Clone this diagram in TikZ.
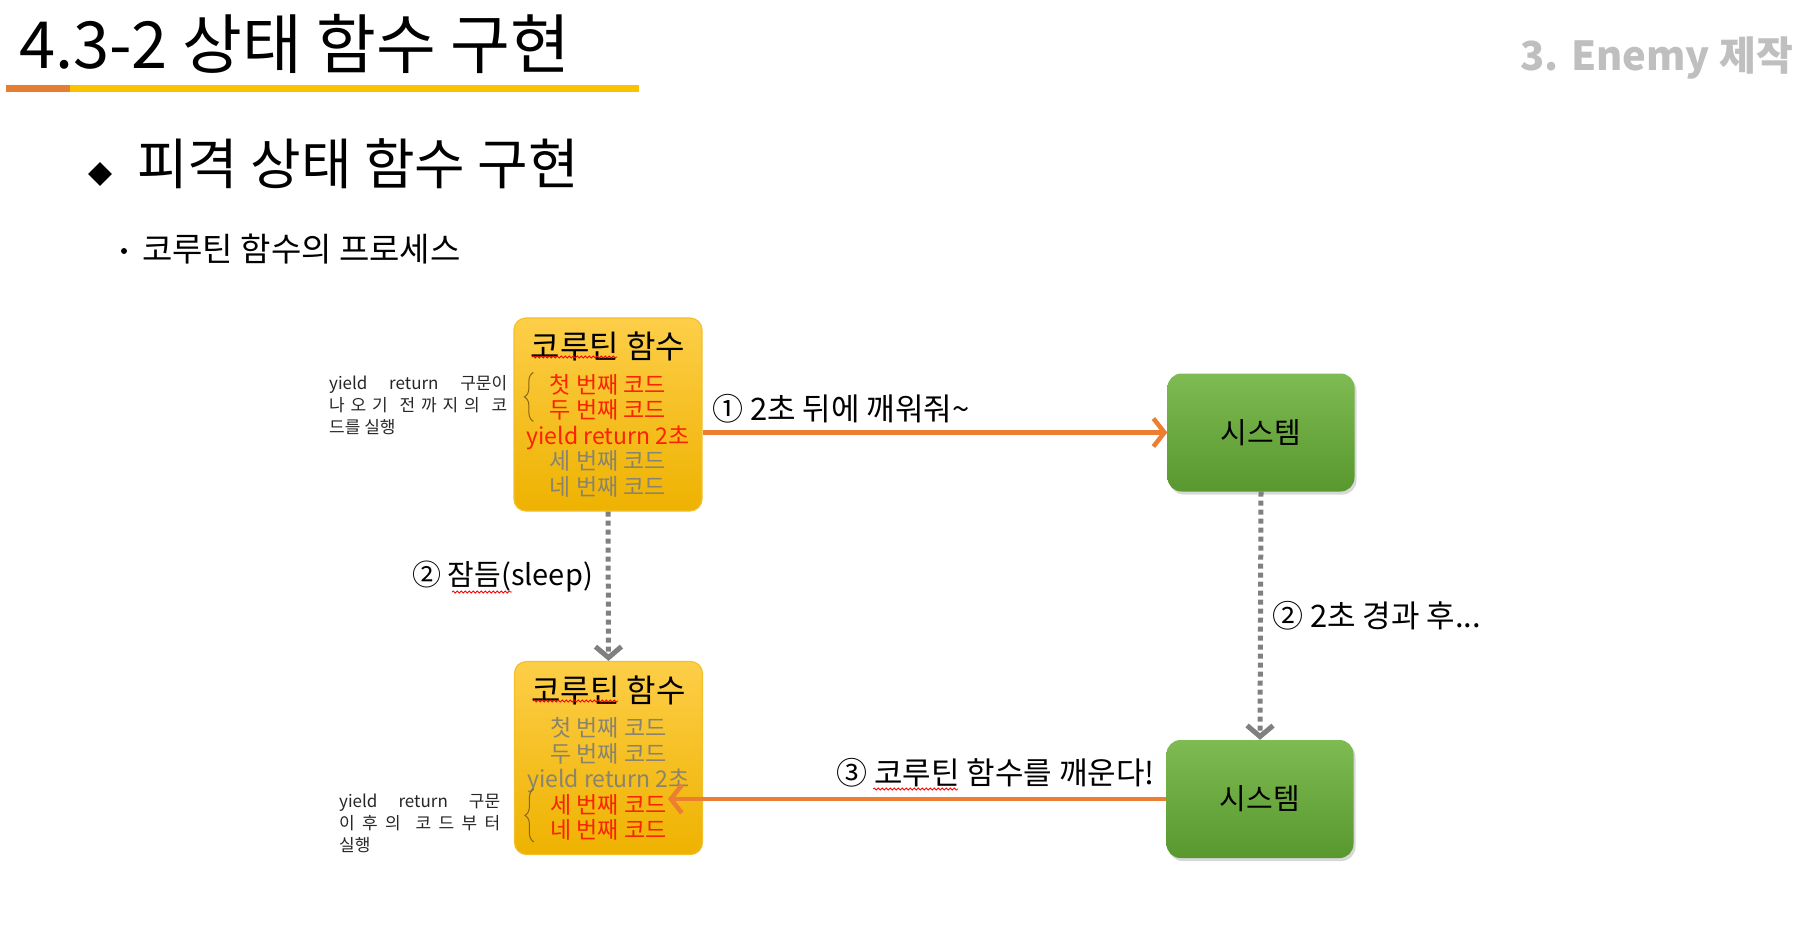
\documentclass[tikz,border=0pt]{standalone}
\usepackage{fontspec}
\setmainfont{Noto Sans CJK KR}
\usetikzlibrary{arrows.meta,shapes.geometric,shadows,decorations.pathreplacing,decorations.pathmorphing,calc}
\definecolor{wakeorange}{RGB}{237,125,49}
\definecolor{codered}{RGB}{250,35,0}
\definecolor{codegray}{RGB}{138,132,110}
\definecolor{boxtop}{RGB}{253,206,72}
\definecolor{boxbottom}{RGB}{238,178,0}
\definecolor{boxline}{RGB}{242,192,45}
\definecolor{systop}{RGB}{126,187,82}
\definecolor{sysbottom}{RGB}{88,152,46}
\definecolor{sleepgray}{RGB}{128,128,128}
\definecolor{chapgray}{RGB}{191,191,191}
\definecolor{bracebrown}{RGB}{140,100,20}
\definecolor{barorange}{RGB}{230,126,50}
\definecolor{baryellow}{RGB}{252,194,0}
\newcommand{\fsz}[2]{\fontsize{#1}{#2}\selectfont}
\begin{document}
\begin{tikzpicture}[x=1pt,y=-1pt,
    corbox/.style={draw=boxline,line width=1.2pt,rounded corners=12pt,top color=boxtop,bottom color=boxbottom,
      minimum width=188pt,minimum height=193pt,align=center,inner sep=0pt,font=\fsz{23}{25.5}},
    sysbox/.style={rounded corners=14pt,top color=systop,bottom color=sysbottom,minimum width=187pt,minimum height=118pt,
      font=\fsz{29}{34},drop shadow={opacity=0.3,shadow xshift=2pt,shadow yshift=-3pt}},
    wakearr/.style={draw=wakeorange,line width=4.5pt,-{Straight Barb[length=11pt,width=28pt]}},
    sleeparr/.style={draw=sleepgray,line width=5pt,dash pattern=on 5pt off 4pt,-{Straight Barb[length=11pt,width=26pt]}},
    lbl/.style={font=\fsz{31}{36},inner sep=0pt},
    note/.style={font=\fsz{17}{22},align=left,anchor=west,inner sep=0pt,text=black!85},
    wavy/.style={red,line width=0.8pt,decorate,decoration={snake,amplitude=1pt,segment length=4pt}}
]
\useasboundingbox[fill=white] (0,0) rectangle (1816,935);
\node[anchor=west,inner sep=0pt,font=\fsz{65}{76}] (title) at (19,44) {4.3-2 상태 함수 구현};
\draw[barorange,line width=7pt] (6,88) -- (70,88);
\draw[baryellow,line width=7pt] (70,88) -- (639,88);
\node[anchor=east,inner sep=0pt,font=\fsz{40}{48}\bfseries,text=chapgray] (chapter) at (1793,58) {3. Enemy 제작};
\node[diamond,fill=black,inner sep=0pt,minimum size=24pt] (dia) at (100,174) {};
\node[anchor=west,inner sep=0pt,font=\fsz{55}{64}] (heading) at (137,164) {피격 상태 함수 구현};
\node[circle,fill=black,inner sep=0pt,minimum size=6pt] (dot) at (124,251) {};
\node[anchor=west,inner sep=0pt,font=\fsz{33}{38}] (sub) at (142,249) {코루틴 함수의 프로세스};

\node[corbox] (cor1) at (608,414.5) {{\fsz{32}{36}코루틴 함수}\\[9pt]
  {\color{codered}첫 번째 코드}\\{\color{codered}두 번째 코드}\\{\color{codered}yield return 2초}\\
  {\color{codegray}세 번째 코드}\\{\color{codegray}네 번째 코드}};
\node[corbox] (cor2) at (608.5,758) {{\fsz{32}{36}코루틴 함수}\\[9pt]
  {\color{codegray}첫 번째 코드}\\{\color{codegray}두 번째 코드}\\{\color{codegray}yield return 2초}\\
  {\color{codered}세 번째 코드}\\{\color{codered}네 번째 코드}};
\node[sysbox] (sys1) at (1261,432.5) {시스템};
\node[sysbox] (sys2) at (1260,799) {시스템};
\coordinate (wake) at (668,799);

\draw[bracebrown,line width=1pt,decorate,decoration={brace,amplitude=9pt}]
  ($(cor1.north west)+(20,104)$) -- ($(cor1.north west)+(20,55)$);
\draw[bracebrown,line width=1pt,decorate,decoration={brace,amplitude=9pt}]
  ($(cor2.north west)+(20,181)$) -- ($(cor2.north west)+(20,128)$);
\node[note] (before) at (329,405) {\makebox[178pt][s]{yield return 구문이}\\
  \makebox[178pt][s]{나\hfil 오\hfil 기\hfil\hfil 전\hfil 까\hfil 지\hfil 의\hfil\hfil 코}\\드를 실행};
\node[note] (after) at (339,823) {\makebox[161pt][s]{yield return 구문}\\
  \makebox[161pt][s]{이\hfil 후\hfil 의\hfil\hfil 코\hfil 드\hfil 부\hfil 터}\\실행};

\draw[wakearr] (cor1.east |- sys1.west) -- (sys1.west);
\draw[sleeparr] (cor1.south) -- (cor2.north);
\draw[sleeparr] (sys1.south) -- (sys2.north);
\draw[wakearr] (sys2.west) -- (wake);
\node[lbl,anchor=west] (ask) at (712,409) {① 2초 뒤에 깨워줘\textasciitilde};
\node[lbl,anchor=east,font=\fsz{29}{34}] (sleep) at (593,577) {② 잠듬(sleep)};
\node[lbl,anchor=west] (elapsed) at (1272,616) {② 2초 경과 후...};
\node[lbl,anchor=east] (wakeup) at (1155,773) {③ 코루틴 함수를 깨운다!};

\draw[wavy] (532,357) -- (617,357);
\draw[wavy] (533,701) -- (618,701);
\draw[wavy] (452,592) -- (512,592);
\draw[wavy] (873,789) -- (958,789);
\end{tikzpicture}
\end{document}
